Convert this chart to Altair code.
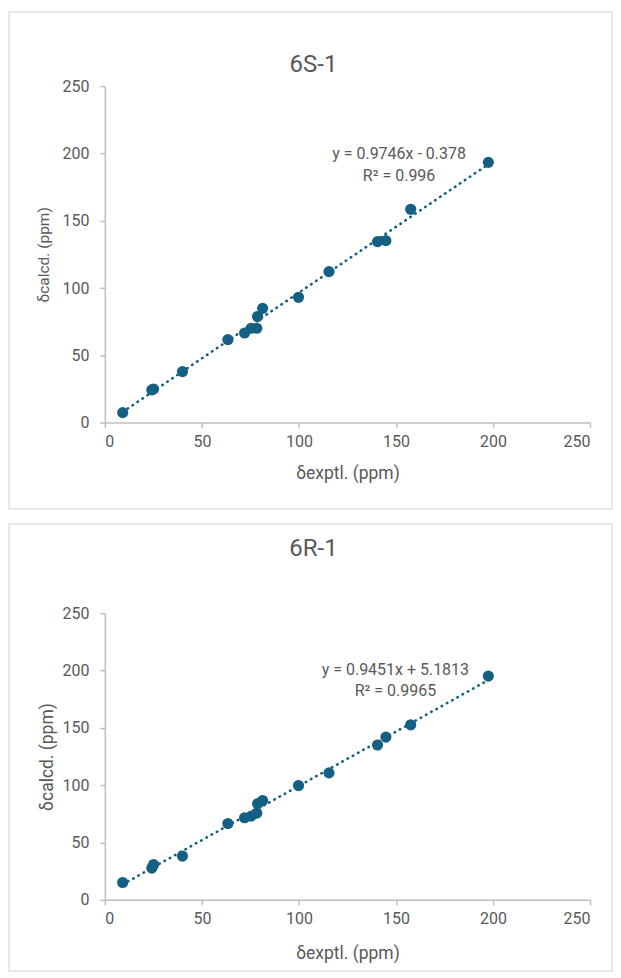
import altair as alt
import pandas as pd

# Experimental shifts (shared by both panels)
exptl = [9.2, 24.2, 25.1, 40.0, 63.4, 72.0, 75.4, 78.3, 78.7, 81.3, 99.8, 115.5, 140.5, 144.8, 157.6, 197.6]
# Calculated shifts
calcd_6S = [7.4, 24.3, 25.0, 37.9, 61.7, 66.6, 70.1, 70.1, 78.8, 84.9, 93.1, 112.2, 134.5, 135.2, 158.5, 193.4]
calcd_6R = [15.1, 27.7, 30.8, 38.1, 66.6, 71.6, 73.0, 75.6, 83.8, 86.7, 99.7, 110.8, 135.1, 142.0, 152.7, 195.2]

titles = ["6S-1", "6R-1"]
eq_6S = ["y = 0.9746x - 0.378", "R² = 0.996"]
eq_6R = ["y = 0.9451x + 5.1813", "R² = 0.9965"]
ticks = [0, 50, 100, 150, 200, 250]

FONT = "Roboto"
BLUE = "#156082"
GRAY = "#595959"
AXIS = "#bfbfbf"


def panel(title, ycalc, eq_lines, eq_pos, h, rect_top, rect_bottom, title_y,
          ytitle_size, ytitle_pad, xtitle_pad):
    df = pd.DataFrame({"exptl": exptl, "calcd": ycalc})
    xs = alt.Scale(domain=[0, 250], nice=False, zero=True)
    ys = alt.Scale(domain=[0, 250], nice=False, zero=True)
    xax = alt.Axis(values=ticks, title="δexptl. (ppm)", labelPadding=6, titlePadding=xtitle_pad,
                   titleFontSize=17.5)
    yax = alt.Axis(values=ticks, title="δcalcd. (ppm)", labelPadding=11,
                   titlePadding=ytitle_pad, titleFontSize=ytitle_size)
    X = alt.X("exptl:Q", scale=xs, axis=xax)
    Y = alt.Y("calcd:Q", scale=ys, axis=yax)

    one = pd.DataFrame({"k": [0]})
    frame = alt.Chart(one).mark_rect(
        fill="transparent", stroke="#d9d9d9", strokeWidth=1.2
    ).encode(x=alt.value(-96), x2=alt.value(508), y=alt.value(rect_top), y2=alt.value(rect_bottom))

    head = alt.Chart(one).mark_text(
        font=FONT, fontSize=24, color=GRAY, align="center", baseline="middle"
    ).encode(x=alt.value(209), y=alt.value(title_y), text=alt.value(title))

    trend = alt.Chart(df).transform_regression("exptl", "calcd").mark_line(
        color=BLUE, strokeWidth=2.6, strokeDash=[0.5, 5.5], strokeCap="round"
    ).encode(x=X, y=Y)

    pts = alt.Chart(df).mark_circle(size=125, color=BLUE, opacity=1).encode(x=X, y=Y)

    eq_df = pd.DataFrame({"exptl": [eq_pos[0]] * 2, "calcd": eq_pos[1], "t": eq_lines})
    txt = alt.Chart(eq_df).mark_text(font=FONT, fontSize=16, color=GRAY, align="center",
                                     baseline="middle").encode(x=X, y=Y, text="t:N")

    return alt.layer(frame, head, trend, pts, txt).properties(width=486, height=h)


top = panel(titles[0], calcd_6S, eq_6S, (151.6, [199.3, 183.5]), 337, -74.5, 423.5, -21.5,
            15.5, 10, 15)
bottom = panel(titles[1], calcd_6R, eq_6R, (149.7, [200.7, 182.0]), 287, -89.5, 358.5, -64.5,
               17.5, 5, 18)

chart = alt.vconcat(top, bottom, spacing=12).properties(
    padding={"left": 0, "top": 1.5, "right": 0, "bottom": 0}
).configure_view(stroke=None).configure_axis(
    grid=False, domainColor=AXIS, domainWidth=1.5, tickColor=AXIS, tickWidth=1.5, tickSize=5,
    labelColor=GRAY, labelFont=FONT, labelFontSize=16, titleColor=GRAY, titleFont=FONT,
    titleFontWeight="normal"
)

chart.save("out.html", embed_options={"renderer": "svg", "actions": False})
